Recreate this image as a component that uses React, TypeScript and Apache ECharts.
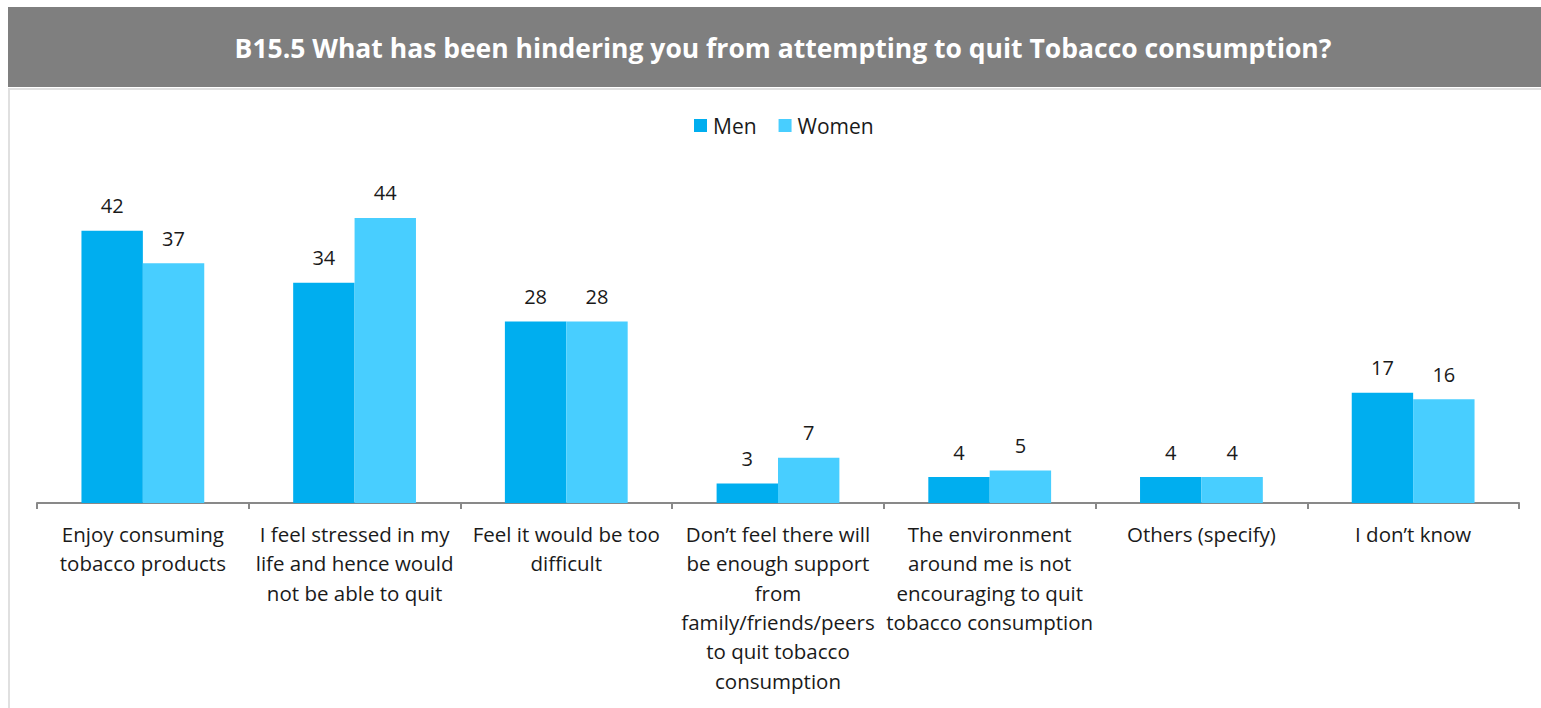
import React, { useEffect, useRef } from "react";
import * as echarts from "echarts";

const titleText = "B15.5 What has been hindering you from attempting to quit Tobacco consumption?";
const categories = [
  "Enjoy consuming\ntobacco products",
  "I feel stressed in my\nlife and hence would\nnot be able to quit",
  "Feel it would be too\ndifficult",
  "Don’t feel there will\nbe enough support\nfrom\nfamily/friends/peers\nto quit tobacco\nconsumption",
  "The environment\naround me is not\nencouraging to quit\ntobacco consumption",
  "Others (specify)",
  "I don’t know",
];
const seriesNames = ["Men", "Women"];
const menValues = [42, 34, 28, 3, 4, 4, 17];
const womenValues = [37, 44, 28, 7, 5, 4, 16];
const colors = ["#00AEEF", "#48CEFF"];

const FONT = "'Open Sans', 'Noto Sans', sans-serif";

export default function App() {
  const ref = useRef<HTMLDivElement>(null);
  useEffect(() => {
    document.body.style.margin = "0";
    const chart = echarts.init(ref.current!, null, { renderer: "svg" });
    chart.setOption({
      animation: false,
      textStyle: { fontFamily: FONT },
      graphic: [
        {
          type: "rect",
          shape: { x: 9, y: 89, width: 1560, height: 700 },
          style: { fill: "#fff", stroke: "#e0e0e0", lineWidth: 2 },
          z: -10,
        },
        {
          type: "rect",
          shape: { x: 8, y: 7, width: 1540, height: 80 },
          style: { fill: "#7f7f7f" },
        },
        {
          type: "text",
          x: 783,
          y: 48,
          style: {
            text: titleText,
            fill: "#ffffff",
            font: `bold 26.5px ${FONT}`,
            textAlign: "center",
            textVerticalAlign: "middle",
          },
        },
      ],
      legend: {
        top: 110,
        left: 689,
        itemWidth: 13,
        itemHeight: 13,
        itemGap: 22,
        icon: "rect",
        textStyle: { fontSize: 21, color: "#1a1a1a", fontFamily: FONT, padding: [0, 0, 0, 1] },
        data: seriesNames,
      },
      grid: { left: 37, right: 22, top: 179, bottom: 205, containLabel: false },
      xAxis: {
        type: "category",
        data: categories,
        axisLine: { lineStyle: { color: "#898989", width: 2 } },
        axisTick: { show: true, length: 6, lineStyle: { color: "#898989", width: 2 } },
        axisLabel: {
          interval: 0,
          fontSize: 20.5,
          lineHeight: 29.4,
          color: "#1a1a1a",
          margin: 16,
          fontFamily: FONT,
        },
      },
      yAxis: {
        type: "value",
        min: 0,
        max: 50,
        show: false,
        splitLine: { show: false },
      },
      series: [
        {
          name: seriesNames[0],
          type: "bar",
          data: menValues,
          itemStyle: { color: colors[0] },
          barGap: "0%",
          barCategoryGap: "42%",
          label: { show: true, position: "top", distance: 15, fontSize: 20, color: "#1a1a1a", fontFamily: FONT },
        },
        {
          name: seriesNames[1],
          type: "bar",
          data: womenValues,
          itemStyle: { color: colors[1] },
          barGap: "0%",
          barCategoryGap: "42%",
          label: { show: true, position: "top", distance: 15, fontSize: 20, color: "#1a1a1a", fontFamily: FONT },
        },
      ],
    });
    return () => chart.dispose();
  }, []);
  return <div ref={ref} style={{ width: 1541, height: 708 }} />;
}
